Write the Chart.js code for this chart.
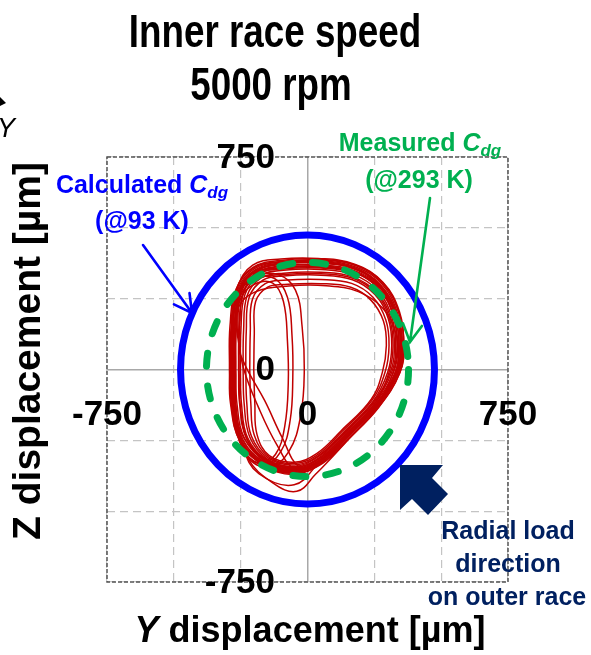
<!DOCTYPE html>
<html>
<head>
<meta charset="utf-8">
<script src="https://cdn.jsdelivr.net/npm/chart.js@4.4.0/dist/chart.umd.min.js"></script>
<style>
html, body { margin: 0; padding: 0; background: #fff; }
#wrap { position: relative; width: 591px; height: 655px; }
</style>
</head>
<body>
<div id="wrap"><canvas id="orbitChart" width="591" height="655"></canvas></div>
<script>
// axis range and tick labels (µm)
const axisMin = -750;
const axisMax = 750;
const axisStep = 250;
const xTickLabels = [-750, 0, 750];
const yTickLabels = [750, 0, -750];

// clearance circles (radius in µm)
const calculatedRadius = [475];
const measuredRadius = [378];

// inner race orbit as [Y, Z, Y, Z, ...] in µm
const loop01 = [-286,0, -284,150, -262,280, -200,355, -90,380, 50,383, 180,362, 280,300, 338,195, 355,85, 340,-10, 262,-130, 150,-240, 55,-325, -50,-362, -160,-332, -248,-250, -282,-120];
const loop02 = [-292,0, -290,152, -267,283, -204,360, -90,386, 50,389, 182,367, 284,304, 343,197, 361,85, 346,-10, 265,-133, 153,-243, 57,-328, -50,-370, -164,-338, -252,-255, -288,-120];
const loop03 = [-276,0, -274,148, -254,276, -194,349, -90,372, 50,375, 178,355, 276,294, 333,193, 349,85, 334,-10, 258,-126, 146,-236, 52,-321, -50,-358, -158,-329, -241,-248, -272,-120];
const loop04 = [-268,0, -266,146, -248,273, -189,343, -90,365, 50,368, 176,349, 272,290, 327,191, 343,85, 328,-10, 255,-123, 143,-233, 49,-317, -50,-352, -155,-324, -235,-244, -264,-120];
const loop05 = [-258,0, -256,143, -240,269, -183,337, -90,358, 50,361, 175,342, 267,285, 322,188, 337,85, 322,-10, 252,-120, 140,-230, 47,-314, -50,-350, -154,-322, -228,-243, -254,-120];
const loop06 = [-251,0, -249,141, -234,265, -179,331, -90,350, 50,353, 172,335, 262,279, 315,186, 330,85, 315,-10, 249,-117, 137,-227, 44,-311, -50,-347, -152,-320, -224,-241, -247,-120];
const loop07 = [-241,0, -239,138, -226,260, -173,323, -90,340, 50,343, 171,326, 259,272, 311,183, 325,85, 310,-10, 247,-115, 135,-225, 42,-307, -50,-342, -150,-316, -216,-238, -237,-120];
const loop08 = [-231,0, -229,135, -218,255, -167,315, -90,330, 50,333, 168,317, 252,265, 302,180, 315,85, 300,-10, 245,-113, 133,-223, 40,-305, -50,-337, -148,-312, -210,-235, -227,-120];
const loop09 = [-216,0, -214,130, -206,248, -158,303, -90,315, 50,318, 165,304, 245,255, 293,175, 305,85, 290,-10, 241,-109, 129,-219, 37,-301, -50,-332, -145,-308, -199,-232, -212,-120];
const loop10 = [-201,0, -199,126, -194,240, -149,291, -90,300, 50,303, 162,290, 238,244, 284,171, 295,85, 280,-10, 238,-106, 126,-216, 34,-297, -50,-327, -143,-304, -189,-229, -197,-120];
const loop11 = [-274,0, -272,144, -252,270, -193,339, -90,360, 50,363, 178,344, 274,286, 331,189, 347,85, 332,-10, 258,-126, 146,-236, 51,-320, -50,-407, -182,-368, -240,-277, -270,-120];
const loop12 = [-280,0, -278,150, -258,280, -195,352, -88,377, 50,380, 178,358, 276,296, 335,192, 352,82, 335,-15, 255,-140, 140,-260, 30,-370, -40,-430, -130,-400, -225,-310, -274,-150];
const loop13 = [-283,0, -281,150, -262,262, -205,318, -125,322, -75,255, -58,120, -55,-30, -65,-180, -100,-290, -165,-335, -235,-290, -270,-160];
const loop14 = [-285,20, -282,160, -258,268, -195,328, -110,335, -45,280, -20,150, -12,0, -25,-160, -70,-290, -145,-345, -228,-305, -272,-170];
const loop15 = [-270,0, -268,150, -250,250, -200,300, -130,305, -90,240, -75,100, -72,-50, -85,-200, -120,-300, -180,-330, -240,-280, -266,-150];
const loop16 = [-262,120, -262,250, -215,335, -100,372, 40,376, 170,356, 272,295, 332,190, 348,85, 332,-10, 255,-128, 145,-238, 45,-325, -45,-352, -115,-265, -185,-130, -238,0];
const loop17 = [-255,60, -258,220, -228,320, -130,360, 20,368, 160,348, 262,290, 325,185, 342,80, 325,-20, 245,-135, 135,-245, 35,-330, -30,-345, -95,-240, -160,-110, -220,-10];
const loop18 = [-278,0, -276,130, -258,220, -200,272, -70,295, 70,296, 190,275, 280,218, 330,130, 340,40, 318,-50, 240,-150, 130,-250, 30,-330, -70,-358, -168,-328, -250,-248, -278,-120];
const loop19 = [-288,0, -286,148, -266,284, -203,358, -92,382, 52,386, 184,366, 284,302, 343,198, 360,88, 345,-12, 266,-134, 154,-245, 58,-330, -48,-366, -162,-338, -252,-254, -285,-122];
const loop20 = [-281,0, -279,155, -262,288, -205,368, -100,390, 40,392, 176,372, 282,308, 344,204, 358,92, 342,-8, 260,-128, 148,-238, 52,-326, -54,-364, -164,-334, -250,-252, -281,-120];
const loop21 = [-281,0, -279,143, -258,268, -197,335, -90,355, 50,358, 179,340, 278,283, 335,188, 352,85, 337,-10, 256,-124, 144,-234, 50,-319, -50,-357, -158,-328, -245,-247, -277,-120];
const loop22 = [-256,0, -254,149, -238,278, -182,351, -90,375, 50,378, 174,358, 266,297, 320,193, 335,85, 320,-10, 258,-126, 146,-236, 52,-321, -50,-354, -156,-326, -227,-245, -252,-120];
const loop23 = [-274,0, -272,137, -252,258, -193,319, -90,335, 50,338, 170,322, 256,269, 306,182, 320,85, 305,-10, 252,-120, 140,-230, 46,-313, -50,-344, -151,-318, -240,-239, -270,-120];

const orbitLoops = [loop01, loop02, loop03, loop04, loop05, loop06, loop07, loop08, loop09, loop10, loop11, loop12,
                    loop13, loop14, loop15, loop16, loop17, loop18, loop19, loop20, loop21, loop22, loop23];

const SANS = '"Liberation Sans", Arial, sans-serif';

// turn a flat list into closed {x, y} points
function toPoints(flat) {
    const pts = [];
    for (let i = 0; i < flat.length; i += 2) pts.push({ x: flat[i], y: flat[i + 1] });
    pts.push({ x: flat[0], y: flat[1] });
    return pts;
}

function drawRing(ctx, xs, ys, r, color, width, dash) {
    const cx = xs.getPixelForValue(0), cy = ys.getPixelForValue(0);
    const rx = xs.getPixelForValue(r) - cx;
    const ry = cy - ys.getPixelForValue(r);
    ctx.save();
    ctx.beginPath();
    ctx.ellipse(cx, cy, rx, ry, 0, 0, Math.PI * 2);
    ctx.strokeStyle = color;
    ctx.lineWidth = width;
    ctx.lineCap = 'round';
    ctx.setLineDash(dash);
    ctx.stroke();
    ctx.restore();
}

function drawLineArrow(ctx, x1, y1, x2, y2, color) {
    const ang = Math.atan2(y2 - y1, x2 - x1);
    const head = 20, spread = 0.5;
    ctx.save();
    ctx.strokeStyle = color;
    ctx.lineWidth = 2.6;
    ctx.lineCap = 'round';
    ctx.beginPath();
    ctx.moveTo(x1, y1);
    ctx.lineTo(x2, y2);
    ctx.moveTo(x2 - head * Math.cos(ang - spread), y2 - head * Math.sin(ang - spread));
    ctx.lineTo(x2, y2);
    ctx.lineTo(x2 - head * Math.cos(ang + spread), y2 - head * Math.sin(ang + spread));
    ctx.stroke();
    ctx.restore();
}

function drawCdgLabel(ctx, prefix, cx, baseline, color) {
    const mainFont = 'bold 25px ' + SANS;
    const capFont = 'italic bold 25px ' + SANS;
    const subFont = 'italic bold 17px ' + SANS;
    ctx.font = mainFont; const w1 = ctx.measureText(prefix).width;
    ctx.font = capFont; const w2 = ctx.measureText('C').width;
    ctx.font = subFont; const w3 = ctx.measureText('dg').width;
    let x0 = cx - (w1 + w2 + w3) / 2;
    ctx.fillStyle = color;
    ctx.textAlign = 'left';
    ctx.textBaseline = 'alphabetic';
    ctx.font = mainFont; ctx.fillText(prefix, x0, baseline); x0 += w1;
    ctx.font = capFont; ctx.fillText('C', x0, baseline); x0 += w2;
    ctx.font = subFont; ctx.fillText('dg', x0, baseline + 5);
}

// condensed bold text (the original uses a narrow face)
function narrowText(ctx, text, cx, baseline, size) {
    ctx.save();
    ctx.translate(cx, baseline);
    ctx.scale(0.8, 1);
    ctx.font = 'bold ' + size + 'px ' + SANS;
    ctx.textAlign = 'center';
    ctx.fillText(text, 0, 0);
    ctx.restore();
}

const overlayPlugin = {
    id: 'overlay',
    beforeDatasetsDraw(chart) {
        const { ctx, chartArea: a } = chart;
        ctx.save();
        ctx.strokeStyle = '#555555';
        ctx.lineWidth = 1.5;
        ctx.setLineDash([4, 2]);
        ctx.strokeRect(a.left, a.top, a.right - a.left, a.bottom - a.top);
        ctx.restore();
    },
    afterDatasetsDraw(chart) {
        const { ctx, scales: { x, y } } = chart;
        drawRing(ctx, x, y, measuredRadius[0], '#00b050', 7, [13, 20]);
        drawRing(ctx, x, y, calculatedRadius[0], '#0000ff', 7, []);
    },
    afterDraw(chart) {
        const { ctx, scales: { x, y } } = chart;
        ctx.save();

        // tick labels placed inside the frame like the original
        ctx.fillStyle = '#000';
        ctx.font = 'bold 35px ' + SANS;
        ctx.textBaseline = 'middle';
        ctx.textAlign = 'center';
        xTickLabels.forEach(v => ctx.fillText(String(v), x.getPixelForValue(v), y.getPixelForValue(-160) + 1));
        ctx.textAlign = 'right';
        yTickLabels.forEach(v => ctx.fillText(String(v), x.getPixelForValue(-122), y.getPixelForValue(v) + 1));

        // title
        ctx.textBaseline = 'alphabetic';
        narrowText(ctx, 'Inner race speed', 275, 47, 46);
        narrowText(ctx, '5000 rpm', 271, 100, 46);

        // axis titles
        ctx.save();
        ctx.translate(40, 351);
        ctx.rotate(-Math.PI / 2);
        ctx.textAlign = 'center';
        ctx.font = 'bold 39px ' + SANS;
        ctx.fillText('Z displacement [µm]', 0, 0);
        ctx.restore();

        const xtA = 'Y', xtB = ' displacement [µm]';
        ctx.font = 'italic bold 36px ' + SANS; const wA = ctx.measureText(xtA).width;
        ctx.font = 'bold 36px ' + SANS; const wB = ctx.measureText(xtB).width;
        let tx = 310 - (wA + wB) / 2;
        ctx.textAlign = 'left';
        ctx.font = 'italic bold 36px ' + SANS; ctx.fillText(xtA, tx, 642);
        ctx.font = 'bold 36px ' + SANS; ctx.fillText(xtB, tx + wA, 642);

        // fragment of the neighbouring panel at the left edge
        ctx.font = 'italic 27px ' + SANS;
        ctx.fillText('Y', -3, 137);
        ctx.beginPath();
        ctx.moveTo(0, 97); ctx.lineTo(6, 103); ctx.lineTo(0, 106);
        ctx.fill();

        // annotations
        drawCdgLabel(ctx, 'Calculated ', 142, 193, '#0000ff');
        ctx.textAlign = 'center';
        ctx.font = 'bold 25px ' + SANS;
        ctx.fillText('(@93 K)', 142, 229);
        drawLineArrow(ctx, 143, 245, 192, 313, '#0000ff');

        drawCdgLabel(ctx, 'Measured ', 420, 151, '#00b050');
        ctx.textAlign = 'center';
        ctx.font = 'bold 25px ' + SANS;
        ctx.fillStyle = '#00b050';
        ctx.fillText('(@293 K)', 419, 188);
        drawLineArrow(ctx, 430, 198, 410, 342, '#00b050');

        // radial load arrow
        ctx.fillStyle = '#002060';
        ctx.beginPath();
        ctx.moveTo(400, 465);
        ctx.lineTo(443, 465);
        ctx.lineTo(432, 478);
        ctx.lineTo(448, 494);
        ctx.lineTo(428, 515);
        ctx.lineTo(412, 499);
        ctx.lineTo(400, 510);
        ctx.closePath();
        ctx.fill();

        ctx.font = 'bold 25px ' + SANS;
        ctx.textAlign = 'center';
        ctx.fillText('Radial load', 508, 539);
        ctx.fillText('direction', 508, 572);
        ctx.fillText('on outer race', 507, 605);

        ctx.restore();
    }
};

const gridStyle = {
    color: c => (c.tick && c.tick.value === 0) ? '#a8a8a8' : '#c4c4c4',
    lineWidth: c => (c.tick && c.tick.value === 0) ? 1.5 : 1.2,
    drawTicks: false
};
const gridBorder = {
    display: false,
    dash: c => (c.tick && c.tick.value === 0) ? [] : [8, 5]
};

new Chart(document.getElementById('orbitChart'), {
    type: 'scatter',
    data: {
        datasets: orbitLoops.map((loop, i) => ({
            label: 'orbit ' + (i + 1),
            data: toPoints(loop),
            showLine: true,
            borderColor: '#c00000',
            borderWidth: 1.5,
            pointRadius: 0,
            tension: 0.4,
            fill: false
        }))
    },
    options: {
        responsive: false,
        animation: false,
        devicePixelRatio: 1,
        events: [],
        layout: { padding: { left: 107, top: 157, right: 83, bottom: 73 } },
        plugins: {
            legend: { display: false },
            tooltip: { enabled: false },
            title: { display: false }
        },
        scales: {
            x: {
                type: 'linear', min: axisMin, max: axisMax,
                ticks: { display: false, stepSize: axisStep },
                grid: gridStyle, border: gridBorder
            },
            y: {
                type: 'linear', min: axisMin, max: axisMax,
                ticks: { display: false, stepSize: axisStep },
                grid: gridStyle, border: gridBorder
            }
        }
    },
    plugins: [overlayPlugin]
});
</script>
</body>
</html>
